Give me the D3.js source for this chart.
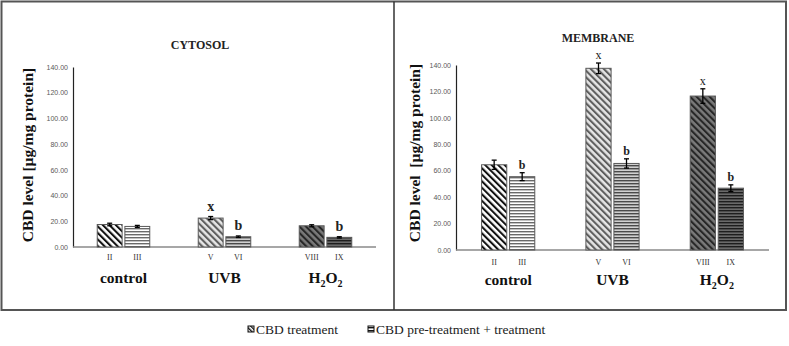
<!DOCTYPE html>
<html><head><meta charset="utf-8">
<script src="https://cdn.jsdelivr.net/npm/d3@7"></script>
<style>body{margin:0;background:#fff}svg{display:block}</style>
</head><body>
<svg id="c" width="789" height="346"></svg>
<script>
const groups = ["control", "UVB", "H2O2"];
const series = ["CBD treatment", "CBD pre-treatment + treatment"];
const barLabels = [["II", "III"], ["V", "VI"], ["VIII", "IX"]];
const yTicks = [0, 20, 40, 60, 80, 100, 120, 140];

const cytosolValues = [[17.5, 16.0], [22.5, 8.0], [16.5, 7.5]];
const cytosolErrors = [[1.0, 0.8], [1.2, 0.6], [0.8, 0.5]];
const cytosolLetters = [["", ""], ["x", "b"], ["", "b"]];

const membraneValues = [[64.5, 55.5], [137.5, 65.5], [116.5, 46.8]];
const membraneErrors = [[3.5, 3.0], [4.0, 3.5], [5.5, 2.5]];
const membraneLetters = [["", "b"], ["x", "b"], ["x", "b"]];

const svg = d3.select("#c");
const defs = svg.append("defs");
const serif = "'Liberation Serif','Times New Roman',serif";
const sans = "'Liberation Sans',Arial,sans-serif";

// patterns: [group][series]
const patStyles = [
  [{bg:"#ffffff", fg:"#111", dir:"d"}, {bg:"#ffffff", fg:"#6a6a6a", dir:"h"}],
  [{bg:"#e6e6e6", fg:"#5e5e5e", dir:"d"}, {bg:"#d0d0d0", fg:"#4a4a4a", dir:"h"}],
  [{bg:"#7a7a7a", fg:"#262626", dir:"d"}, {bg:"#6a6a6a", fg:"#1e1e1e", dir:"h"}]
];
function makePattern(id, s, size) {
  const p = defs.append("pattern").attr("id", id).attr("patternUnits", "userSpaceOnUse");
  if (s.dir === "d") {
    p.attr("width", size).attr("height", size).attr("patternTransform", "rotate(-45)");
    p.append("rect").attr("width", size).attr("height", size).attr("fill", s.bg);
    p.append("rect").attr("x", 0).attr("width", size * 0.45).attr("height", size).attr("fill", s.fg);
  } else {
    p.attr("width", 4).attr("height", 3);
    p.append("rect").attr("width", 4).attr("height", 3).attr("fill", s.bg);
    p.append("rect").attr("y", 0).attr("width", 4).attr("height", 1.4).attr("fill", s.fg);
  }
}
patStyles.forEach((g, gi) => g.forEach((s, si) => makePattern(`p${gi}${si}`, s, 4.6)));
makePattern("legD", {bg:"#fff", fg:"#111", dir:"d"}, 3);
makePattern("legH", {bg:"#fff", fg:"#111", dir:"h"}, 3);

// frame
svg.append("rect").attr("x", 1.5).attr("y", 1.5).attr("width", 784.5).attr("height", 308.5)
  .attr("fill", "none").attr("stroke", "#555").attr("stroke-width", 2);
svg.append("line").attr("x1", 394).attr("x2", 394).attr("y1", 1.5).attr("y2", 310)
  .attr("stroke", "#333").attr("stroke-width", 1.5);

function panel(cfg) {
  const g = svg.append("g");
  const y = d3.scaleLinear().domain([0, 140]).range([cfg.y0, cfg.y1]);
  const x0 = d3.scaleBand().domain(groups).range([cfg.xa, cfg.xb]).paddingInner(cfg.pin).paddingOuter(cfg.pin / 2);
  const x1 = d3.scaleBand().domain(series).range([0, x0.bandwidth()]).paddingInner(0.1);

  // title
  g.append("text").attr("x", cfg.titleX).attr("y", cfg.titleY).attr("text-anchor", "middle")
    .attr("font-family", serif).attr("font-weight", "bold").attr("font-size", 12).attr("fill", "#222").text(cfg.title);

  // y axis
  const ya = g.append("g").attr("transform", `translate(${cfg.xa},0)`)
    .call(d3.axisLeft(y).tickValues(yTicks).tickFormat(d3.format(".2f")).tickSize(0).tickPadding(5));
  ya.select(".domain").attr("stroke", "#222").attr("stroke-width", 1.2);
  ya.selectAll("text").attr("font-family", sans).attr("font-size", 7).attr("fill", "#595959");

  // baseline
  g.append("line").attr("x1", cfg.xa).attr("x2", cfg.xb).attr("y1", y(0)).attr("y2", y(0))
    .attr("stroke", "#8a8a8a").attr("stroke-width", 1.5);

  // y title
  g.append("text").attr("transform", `translate(${cfg.ytX},${cfg.ytY}) rotate(-90)`)
    .attr("text-anchor", "middle").attr("font-family", serif).attr("font-weight", "bold")
    .attr("font-size", 15.5).attr("fill", "#111").attr("xml:space", "preserve").text(cfg.yTitle);

  groups.forEach((gr, gi) => {
    series.forEach((s, si) => {
      const v = cfg.values[gi][si], e = cfg.errors[gi][si];
      const bx = x0(gr) + x1(s), bw = x1.bandwidth();
      g.append("rect").attr("x", bx).attr("y", y(v)).attr("width", bw).attr("height", y(0) - y(v))
        .attr("fill", `url(#p${gi}${si})`).attr("stroke", "#5a5a5a").attr("stroke-width", 1);
      const cx = bx + bw / 2;
      g.append("line").attr("x1", cx).attr("x2", cx).attr("y1", y(v + e)).attr("y2", y(v - e))
        .attr("stroke", "#000").attr("stroke-width", 1.3);
      [v + e, v - e].forEach(t => g.append("line").attr("x1", cx - 2.5).attr("x2", cx + 2.5)
        .attr("y1", y(t)).attr("y2", y(t)).attr("stroke", "#000").attr("stroke-width", 1.3));
      // roman label
      g.append("text").attr("x", cx).attr("y", cfg.romanY).attr("text-anchor", "middle")
        .attr("font-family", serif).attr("font-size", 8).attr("fill", "#333").text(barLabels[gi][si]);
      // significance letter
      const L = cfg.letters[gi][si];
      if (L) {
        g.append("text").attr("x", cx).attr("y", y(v + e) - cfg.letterGap).attr("text-anchor", "middle")
          .attr("font-family", serif).attr("font-weight", (L === "x" && !cfg.boldX) ? "normal" : "bold")
          .attr("font-size", cfg.letterSize).attr("fill", "#222").text(L);
      }
    });
    // group label
    const t = g.append("text").attr("x", x0(gr) + x0.bandwidth() / 2).attr("y", cfg.groupY)
      .attr("text-anchor", "middle").attr("font-family", serif).attr("font-weight", "bold")
      .attr("font-size", 15.5).attr("fill", "#111");
    if (gr === "H2O2") {
      t.append("tspan").text("H");
      t.append("tspan").attr("font-size", 10).attr("dy", 4).text("2");
      t.append("tspan").attr("dy", -4).text("O");
      t.append("tspan").attr("font-size", 10).attr("dy", 4).text("2");
    } else t.text(gr);
  });
}

panel({xa: 73, xb: 376, y0: 247, y1: 67, pin: 0.48, title: "CYTOSOL", titleX: 200, titleY: 49,
  yTitle: "CBD level [µg/mg protein]", ytX: 33, ytY: 155, romanY: 260, groupY: 283,
  values: cytosolValues, errors: cytosolErrors, letters: cytosolLetters, letterGap: 6, letterSize: 14, boldX: true});
panel({xa: 456, xb: 769, y0: 250, y1: 65, pin: 0.49, title: "MEMBRANE", titleX: 598, titleY: 42,
  yTitle: "CBD level  [µg/mg protein]", ytX: 420, ytY: 153, romanY: 265, groupY: 285,
  values: membraneValues, errors: membraneErrors, letters: membraneLetters, letterGap: 4, letterSize: 12, boldX: false});

// legend
const leg = svg.append("g");
const legX = [248, 368];
series.forEach((s, i) => {
  leg.append("rect").attr("x", legX[i]).attr("y", 326).attr("width", 6).attr("height", 6)
    .attr("fill", i === 0 ? "url(#legD)" : "url(#legH)").attr("stroke", "#111").attr("stroke-width", 1);
  leg.append("text").attr("x", legX[i] + 8).attr("y", 333.5).attr("font-family", serif)
    .attr("font-size", 13.5).attr("fill", "#222").text(s);
});
</script>
</body></html>
